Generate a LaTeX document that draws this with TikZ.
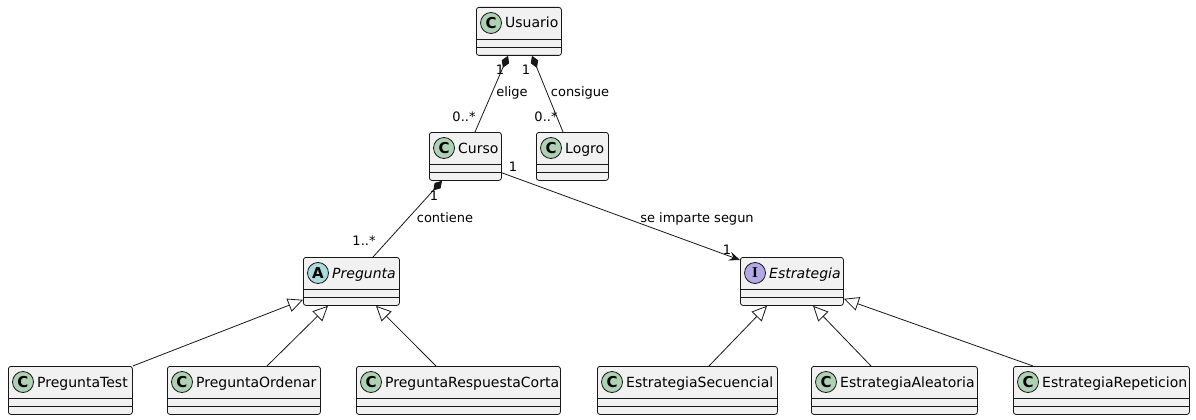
\documentclass[tikz,border=0pt]{standalone}
\usepackage{fontspec}
\setmainfont{DejaVu Sans}
\newfontfamily\serifspot{Liberation Serif}
\usetikzlibrary{arrows.meta}
\definecolor{boxfill}{HTML}{F1F1F1}
\definecolor{ink}{HTML}{181818}
\definecolor{spotC}{HTML}{ADD1B2}
\definecolor{spotA}{HTML}{A9DCDF}
\definecolor{spotI}{HTML}{B4A7E5}
\tikzset{
 cls/.style={draw=ink, fill=boxfill, rounded corners=2.5pt, minimum height=48pt, inner sep=0pt, anchor=north west, line width=0.8pt},
 spot/.style={circle, draw=ink, line width=0.8pt, minimum size=21pt, inner sep=0pt, font=\bfseries\fontsize{15}{15}\selectfont},
 clsname/.style={anchor=base west, inner sep=0pt, font=\fontsize{14}{16}\selectfont},
 lbl/.style={inner sep=0pt, font=\fontsize{13}{15}\selectfont, text=black},
 conn/.style={draw=ink, line width=0.8pt},
 comp/.style={conn, {Diamond[length=13pt,width=8pt,fill=ink]}-},
 inh/.style={conn, -{Triangle[open,length=15pt,width=14pt,fill=white]}},
 assoc/.style={conn, -{Stealth[length=11pt,width=9pt,inset=4pt]}},
}
\newcommand\umlclass[7]{%
  \node[cls, minimum width=#4pt] (#1) at (#2,#3) {};
  \draw[ink, line width=0.8pt] ([yshift=-32pt]#1.north west) -- ([yshift=-32pt]#1.north east);
  \draw[ink, line width=0.8pt] ([yshift=-40pt]#1.north west) -- ([yshift=-40pt]#1.north east);
  \node[spot, fill=#6] (#1-spot) at ([xshift=15pt,yshift=-16pt]#1.north west) {#5};
  \node[clsname] (#1-name) at ([xshift=29pt,yshift=-21pt]#1.north west) {#7};
}
\begin{document}
\begin{tikzpicture}[x=1pt,y=-1pt]
\useasboundingbox[fill=white] (0,0) rectangle (1196,420);
% classes
\umlclass{Usuario}{476}{7}{85}{C}{spotC}{Usuario}
\umlclass{Curso}{429}{132}{72}{C}{spotC}{Curso}
\umlclass{Logro}{536}{132}{72}{C}{spotC}{Logro}
\umlclass{Pregunta}{303}{257}{96}{A}{spotA}{\itshape Pregunta}
\umlclass{Estrategia}{740}{257}{103}{{\serifspot I}}{spotI}{\itshape Estrategia}
\umlclass{PreguntaTest}{8}{366}{124}{C}{spotC}{PreguntaTest}
\umlclass{PreguntaOrdenar}{167}{366}{153}{C}{spotC}{PreguntaOrdenar}
\umlclass{PreguntaRespuestaCorta}{356}{366}{204}{C}{spotC}{PreguntaRespuestaCorta}
\umlclass{EstrategiaSecuencial}{597}{366}{180}{C}{spotC}{EstrategiaSecuencial}
\umlclass{EstrategiaAleatoria}{811}{366}{166}{C}{spotC}{EstrategiaAleatoria}
\umlclass{EstrategiaRepeticion}{1013}{366}{176}{C}{spotC}{EstrategiaRepeticion}
% compositions
\draw[comp] ([xshift=32pt]Usuario.south west) -- ([xshift=46pt]Curso.north west);
\draw[comp] ([xshift=56pt]Usuario.south west) -- ([xshift=27pt]Logro.north west);
\draw[comp] ([xshift=13pt]Curso.south west) -- ([xshift=70pt]Pregunta.north west);
% association
\draw[assoc] ([yshift=8pt]Curso.south east) -- ([yshift=-3pt]Estrategia.north west);
% inheritance
\draw[inh] (PreguntaTest.north east) -- ([yshift=6pt]Pregunta.south west);
\draw[inh] ([xshift=100pt]PreguntaOrdenar.north west) -- ([xshift=25pt]Pregunta.south west);
\draw[inh] ([xshift=80pt]PreguntaRespuestaCorta.north west) -- ([xshift=73pt]Pregunta.south west);
\draw[inh] ([xshift=112pt]EstrategiaSecuencial.north west) -- ([xshift=27pt]Estrategia.south west);
\draw[inh] ([xshift=60pt]EstrategiaAleatoria.north west) -- ([xshift=73pt]Estrategia.south west);
\draw[inh] ([xshift=20pt]EstrategiaRepeticion.north west) -- ([yshift=7pt]Estrategia.south east);
% labels
\node[lbl] (l1) at (500,70) {1};
\node[lbl] (l2) at (512,93) {elige};
\node[lbl] (l3) at (464,117) {0..*};
\node[lbl] (l4) at (526,70) {1};
\node[lbl] (l5) at (580,93) {consigue};
\node[lbl] (l6) at (546,117) {0..*};
\node[lbl] (l7) at (434,196) {1};
\node[lbl] (l8) at (445,218) {contiene};
\node[lbl] (l9) at (364,241) {1..*};
\node[lbl] (l10) at (513,167) {1};
\node[lbl] (l11) at (697,219) {se imparte segun};
\node[lbl] (l12) at (727,250) {1};
\end{tikzpicture}
\end{document}
